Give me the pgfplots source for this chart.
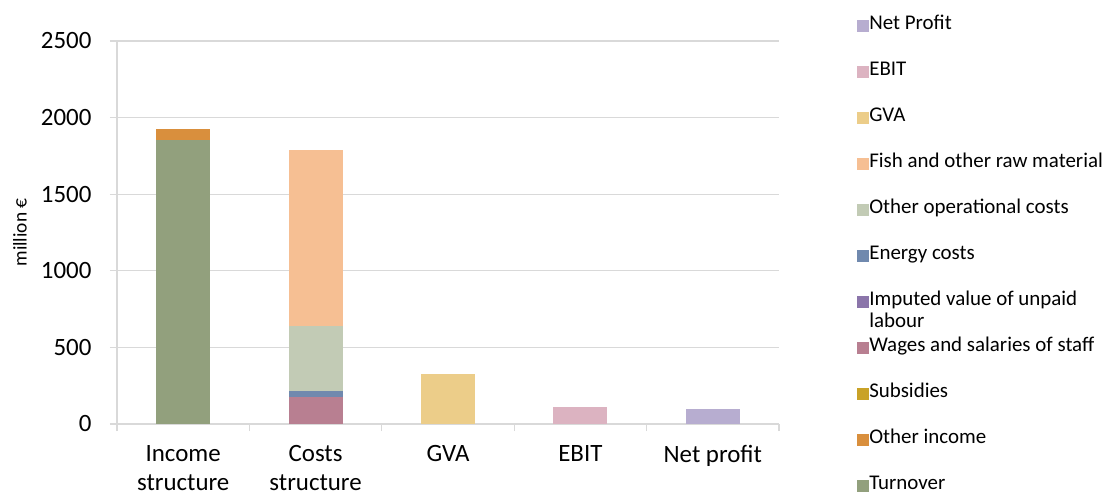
\documentclass[border=0pt]{standalone}
\usepackage{fontspec}
\setmainfont{Carlito}
\usepackage{pgfplots}
\pgfplotsset{compat=1.18}

\definecolor{cTurn}{HTML}{92A07D}
\definecolor{cOthInc}{HTML}{D98F3D}
\definecolor{cSubs}{HTML}{C9A227}
\definecolor{cWage}{HTML}{B87F91}
\definecolor{cImp}{HTML}{8B75AA}
\definecolor{cEner}{HTML}{7089AE}
\definecolor{cOthOp}{HTML}{C2CBB5}
\definecolor{cFish}{HTML}{F6BF93}
\definecolor{cGVA}{HTML}{ECCD89}
\definecolor{cEBIT}{HTML}{DCB3C1}
\definecolor{cNet}{HTML}{B7ADD0}
\definecolor{gridgray}{HTML}{D9D9D9}

\begin{document}
\begin{tikzpicture}
\begin{axis}[
    scale only axis,
    width=662bp, height=383bp,
    ybar stacked,
    bar width=54bp,
    xmin=-0.5, xmax=4.5,
    ymin=0, ymax=2500,
    ytick={0,500,...,2500},
    xtick={0,1,2,3,4},
    xticklabels={{Income\\structure},{Costs\\structure},GVA,EBIT,{Net profit}},
    minor xtick={-0.5,0.5,1.5,2.5,3.5,4.5},
    major x tick style={draw=none},
    tick align=outside,
    major tick length=7bp,
    minor tick length=7bp,
    tick style={draw=gridgray, line width=1.2pt},
    ymajorgrids=true,
    grid style={draw=gridgray, line width=1.2pt},
    axis line style={draw=gridgray, line width=1.2pt},
    axis x line*=bottom,
    axis y line*=left,
    separate axis lines,
    /pgf/number format/assume math mode=true,
    /pgf/number format/set thousands separator={},
    ticklabel style={font=\fontsize{25}{29}\selectfont},
    xticklabel style={align=center, yshift=-11bp},
    yticklabel style={xshift=-15bp},
    ylabel={million €},
    ylabel style={font=\fontsize{19.5}{22}\selectfont, at={(axis description cs:-0.1465,0.5)}, anchor=center, rotate=0},
    reverse legend,
    legend cell align=left,
    legend image code/.code={\fill[#1] (0bp,-6bp) rectangle (12bp,6bp);},
    legend style={draw=none, fill=none, at={(axis description cs:1.118,1.064)}, anchor=north west,
        font=\fontsize{21}{24}\selectfont, inner sep=0pt, row sep=28bp,
        nodes={inner sep=0pt, text height=13bp, text depth=5bp, xshift=8bp}},
]
\addplot[fill=cTurn, draw=none] coordinates {(0,1854) (1,0) (2,0) (3,0) (4,0)};
\addlegendentry{Turnover}
\addplot[fill=cOthInc, draw=none] coordinates {(0,71) (1,0) (2,0) (3,0) (4,0)};
\addlegendentry{Other income}
\addplot[fill=cSubs, draw=none] coordinates {(0,0) (1,0) (2,0) (3,0) (4,0)};
\addlegendentry{Subsidies}
\addplot[fill=cWage, draw=none] coordinates {(0,0) (1,176) (2,0) (3,0) (4,0)};
\addlegendentry{Wages and salaries of staff}
\addplot[fill=cImp, draw=none] coordinates {(0,0) (1,2) (2,0) (3,0) (4,0)};
\addlegendentry{\smash{\parbox[t]{230bp}{\raggedright Imputed value of unpaid\\[-2bp]labour}}}
\addplot[fill=cEner, draw=none] coordinates {(0,0) (1,37) (2,0) (3,0) (4,0)};
\addlegendentry{Energy costs}
\addplot[fill=cOthOp, draw=none] coordinates {(0,0) (1,425) (2,0) (3,0) (4,0)};
\addlegendentry{Other operational costs}
\addplot[fill=cFish, draw=none] coordinates {(0,0) (1,1148) (2,0) (3,0) (4,0)};
\addlegendentry{Fish and other raw material}
\addplot[fill=cGVA, draw=none] coordinates {(0,0) (1,0) (2,326) (3,0) (4,0)};
\addlegendentry{GVA}
\addplot[fill=cEBIT, draw=none] coordinates {(0,0) (1,0) (2,0) (3,111) (4,0)};
\addlegendentry{EBIT}
\addplot[fill=cNet, draw=none] coordinates {(0,0) (1,0) (2,0) (3,0) (4,98)};
\addlegendentry{Net Profit}
\end{axis}
\pgfresetboundingbox
\path[use as bounding box] (-117bp,-73bp) rectangle (990bp,424bp);
\end{tikzpicture}
\end{document}
